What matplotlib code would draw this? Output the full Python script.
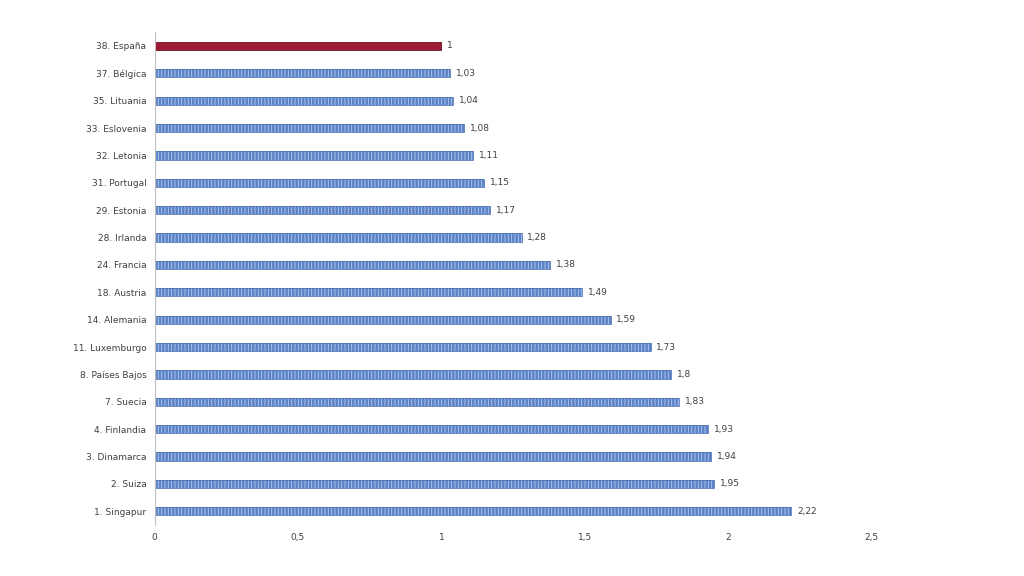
import matplotlib
matplotlib.use("Agg")
import matplotlib.pyplot as plt

countries = ["1. Singapur", "2. Suiza", "3. Dinamarca", "4. Finlandia", "7. Suecia",
             "8. Países Bajos", "11. Luxemburgo", "14. Alemania", "18. Austria", "24. Francia",
             "28. Irlanda", "29. Estonia", "31. Portugal", "32. Letonia", "33. Eslovenia",
             "35. Lituania", "37. Bélgica", "38. España"]
values = [2.22, 1.95, 1.94, 1.93, 1.83, 1.8, 1.73, 1.59, 1.49, 1.38,
          1.28, 1.17, 1.15, 1.11, 1.08, 1.04, 1.03, 1]
labels = ["2,22", "1,95", "1,94", "1,93", "1,83", "1,8", "1,73", "1,59", "1,49", "1,38",
          "1,28", "1,17", "1,15", "1,11", "1,08", "1,04", "1,03", "1"]

plt.rcParams["hatch.linewidth"] = 0.6
fig = plt.figure(figsize=(10.24, 5.76), dpi=100)
ax = fig.add_axes([0.151, 0.0885, 0.70, 0.8555])

for i, (v, lab) in enumerate(zip(values, labels)):
    if countries[i].startswith("38."):
        ax.barh(i, v, height=0.3, color="#9b1b37", edgecolor="#6e1020", lw=0.6)
    else:
        ax.barh(i, v, height=0.3, color="#5b84c8", edgecolor="#b9cbec", hatch="|||||", lw=0)
        ax.barh(i, v, height=0.3, fill=False, edgecolor="#4f74b5", lw=0.6)
    ax.text(v + 0.02, i, lab, va="center", ha="left", fontsize=6.5, color="#404040")

ax.set_yticks(range(len(countries)))
ax.set_yticklabels(countries, fontsize=6.5, color="#404040")
ax.set_ylim(-0.5, len(countries) - 0.5)
ax.set_xlim(0, 2.5)
ax.set_xticks([0, 0.5, 1, 1.5, 2, 2.5])
ax.set_xticklabels(["0", "0,5", "1", "1,5", "2", "2,5"], fontsize=6.5, color="#404040")
ax.tick_params(length=0, pad=6)
for s in ["top", "right", "bottom"]:
    ax.spines[s].set_visible(False)
ax.spines["left"].set_color("#bfbfbf")

fig.savefig("out.png", dpi=100)
